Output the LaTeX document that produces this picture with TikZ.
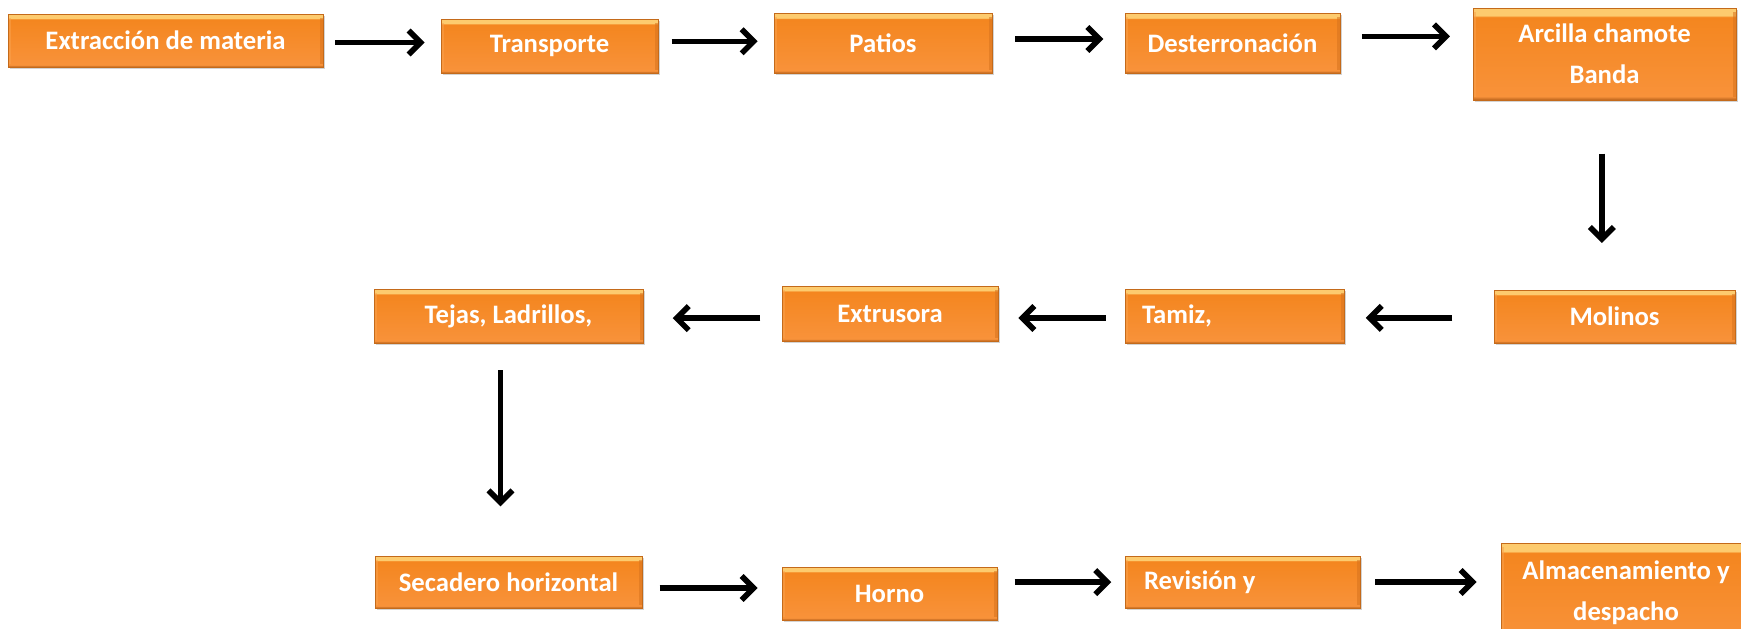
\documentclass[tikz,border=0pt]{standalone}
\usepackage{fontspec}
\setmainfont{Carlito}
\usetikzlibrary{arrows.meta,shadows}
\definecolor{bxdk}{HTML}{B8621C}
\definecolor{bxlo}{HTML}{F8923A}
\definecolor{bxhi}{HTML}{F4861F}
\definecolor{bxlt}{HTML}{FDCB6E}
\definecolor{bxedge}{HTML}{C46A1A}
\definecolor{bxleft}{HTML}{F9A24E}
\definecolor{bxright}{HTML}{D7731E}
\pgfdeclareverticalshading{boxshade}{100bp}{color(0bp)=(bxdk); color(25bp)=(bxdk); color(27bp)=(bxlo); color(70bp)=(bxhi); color(71bp)=(bxlt); color(75bp)=(bxlt); color(100bp)=(bxlt)}
\begin{document}
\begin{tikzpicture}[x=0.75pt,y=-0.75pt,
  box/.style={draw=bxedge, line width=0.6pt, shading=boxshade, inner sep=0pt,
    drop shadow={shadow xshift=1.5pt, shadow yshift=-1.8pt, opacity=0.35},
    path picture={
      \fill[bxleft, opacity=0.5] (path picture bounding box.north west) ++(0,-3pt) rectangle ([xshift=2pt,yshift=2pt]path picture bounding box.south west);
      \fill[bxright, opacity=0.55] (path picture bounding box.north east) ++(0,-3pt) rectangle ([xshift=-2pt,yshift=2pt]path picture bounding box.south east);
    },
    text=white, font=\fontsize{20}{31}\selectfont\bfseries, align=center},
  arr/.style={line width=4.2pt, -{Straight Barb[length=9pt,width=18pt]}}]
\useasboundingbox (0,0) rectangle (1741,628);
\clip (0,0) rectangle (1741,628);
% row 1
\node[box, minimum width=236.25pt, minimum height=39.75pt] (ext) at (165.5,40.5) {Extracción de materia};
\node[box, minimum width=162.75pt, minimum height=40.5pt] (tra) at (549.5,46) {Transporte};
\node[box, minimum width=163.5pt, minimum height=45pt] (pat) at (883,43) {Patios};
\node[box, minimum width=161.25pt, minimum height=45pt] (des) at (1232.5,43) {Desterronación};
\node[box, minimum width=197.25pt, minimum height=69pt] (arc) at (1604.5,54) {Arcilla chamote\\Banda};
% row 2
\node[box, minimum width=180.75pt, minimum height=39.75pt] (mol) at (1614.5,316.5) {Molinos};
\node[box, minimum width=164.25pt, minimum height=40.5pt] (tam) at (1234.5,316) {\makebox[138.75pt][l]{Tamiz,}};
\node[box, minimum width=162pt, minimum height=41.25pt] (ext2) at (890,313.5) {Extrusora};
\node[box, minimum width=201.75pt, minimum height=40.5pt] (tej) at (508.5,316) {Tejas, Ladrillos,};
% row 3
\node[box, minimum width=200.25pt, minimum height=39pt] (sec) at (508.5,582) {Secadero horizontal};
\node[box, minimum width=161.25pt, minimum height=39.75pt] (hor) at (889.5,593.5) {Horno};
\node[box, minimum width=176.25pt, minimum height=39pt] (rev) at (1242.5,582) {\makebox[147.75pt][l]{Revisión y}};
\node[box, minimum width=187.5pt, minimum height=75pt] (alm) at (1626,593) {Almacenamiento y\\despacho};
% connectors
\draw[arr, shorten <=9pt, shorten >=12pt] ([yshift=-1.5pt]ext.east) -- ([yshift=-1.5pt]ext.east -| tra.west);
\draw[arr, shorten <=10pt, shorten >=12pt] ([yshift=3.5pt]tra.east) -- ([yshift=3.5pt]tra.east -| pat.west);
\draw[arr, shorten <=17pt, shorten >=16pt] ([yshift=3pt]pat.east) -- ([yshift=3pt]pat.east -| des.west);
\draw[arr, shorten <=16pt, shorten >=17pt] ([yshift=5pt]des.east) -- ([yshift=5pt]des.east -| arc.west);
\draw[arr, shorten <=40pt, shorten >=35pt] ([xshift=-2pt]arc.south) -- ([xshift=-2pt]arc.south |- mol.north);
\draw[arr, shorten <=31pt, shorten >=16pt] ([yshift=-1pt]mol.west) -- ([yshift=-1pt]mol.west -| tam.east);
\draw[arr, shorten <=14pt, shorten >=15pt] ([yshift=-1.5pt]tam.west) -- ([yshift=-1.5pt]tam.west -| ext2.east);
\draw[arr, shorten <=16pt, shorten >=22pt] ([yshift=-3.5pt]ext2.west) -- ([yshift=-3.5pt]ext2.west -| tej.east);
\draw[arr, shorten <=20pt, shorten >=37pt] ([xshift=-6pt]tej.south) -- ([xshift=-6pt]tej.south |- sec.north);
\draw[arr, shorten <=13pt, shorten >=18pt] ([yshift=-4.5pt]sec.east) -- ([yshift=-4.5pt]sec.east -| hor.west);
\draw[arr, shorten <=13pt, shorten >=10pt] ([yshift=8.5pt]hor.east) -- ([yshift=8.5pt]hor.east -| rev.west);
\draw[arr, shorten <=11pt, shorten >=18pt] (rev.east) -- (rev.east -| alm.west);
\end{tikzpicture}
\end{document}
